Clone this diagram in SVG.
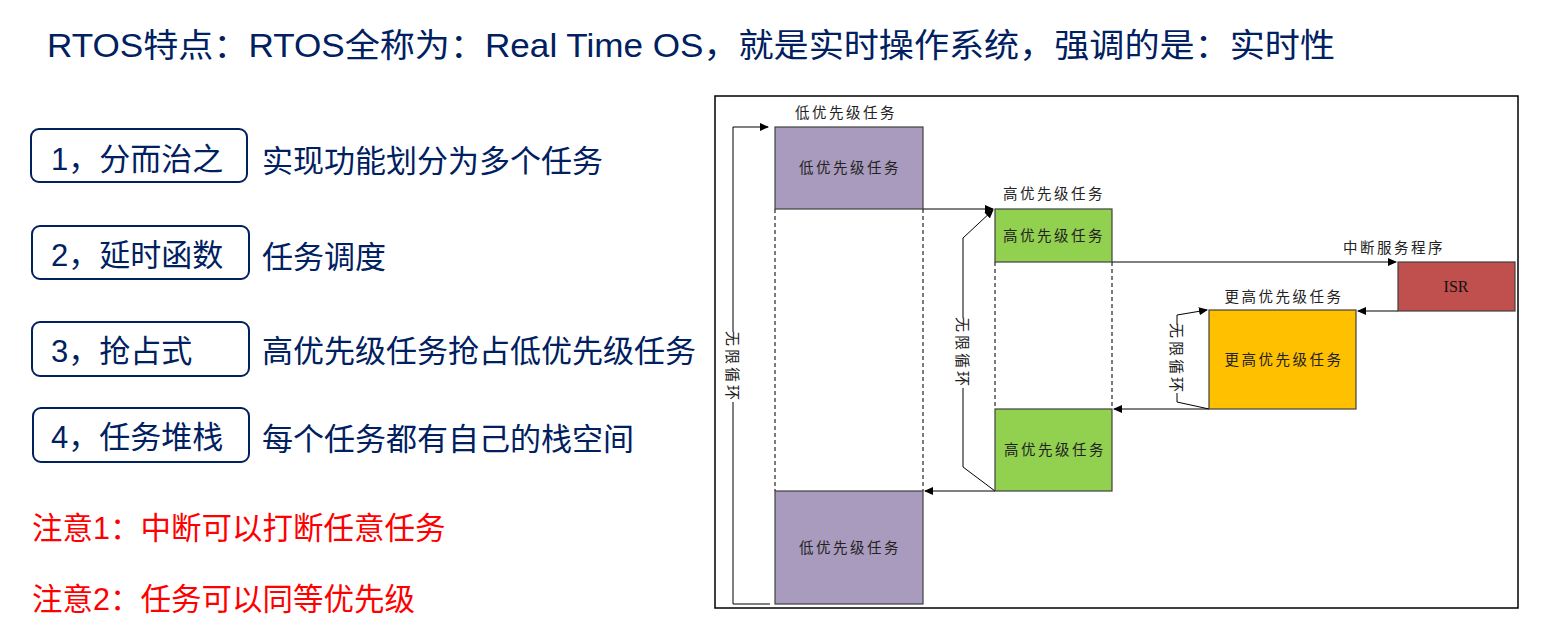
<svg xmlns="http://www.w3.org/2000/svg" width="1542" height="637" viewBox="0 0 1542 637">
<style>
.navy{fill:#002060;font-family:"Liberation Sans","Noto Sans CJK SC",sans-serif;}
.big{font-size:31px;}
.red{fill:#FF0000;font-family:"Liberation Sans","Noto Sans CJK SC",sans-serif;font-size:30.5px;}
.pill{fill:#FFFFFF;stroke:#002060;stroke-width:2;}
.box{stroke:#404040;stroke-width:1.2;}
.lbl{font-family:"Noto Sans CJK SC",sans-serif;font-size:14.5px;fill:#222;letter-spacing:2.5px;text-anchor:middle;}
.vlbl{font-family:"Noto Sans CJK SC",sans-serif;font-size:15px;fill:#222;letter-spacing:3px;text-anchor:middle;}
.dash{stroke:#444;stroke-width:1.4;stroke-dasharray:4,3;fill:none;}
.con{stroke:#000;stroke-width:1;fill:none;}
.arr{marker-end:url(#ah);}
</style>
<defs>
<marker id="ah" markerWidth="9" markerHeight="8" refX="8" refY="4" orient="auto" markerUnits="userSpaceOnUse">
<path d="M0,0 L9,4 L0,8 Z" fill="#000"/>
</marker>
</defs>
<rect width="1542" height="637" fill="#FFFFFF"/>
<g id="title">
<text class="navy" x="47" y="57" font-size="33" textLength="1288" lengthAdjust="spacingAndGlyphs">RTOS特点：RTOS全称为：Real Time OS，就是实时操作系统，强调的是：实时性</text>
</g>
<g id="item1">
<rect class="pill" x="31" y="129" width="216" height="53" rx="8"/>
<text class="navy big" x="51" y="170">1，分而治之</text>
<text class="navy big" x="262" y="172">实现功能划分为多个任务</text>
</g>
<g id="item2">
<rect class="pill" x="32" y="226" width="217" height="53" rx="8"/>
<text class="navy big" x="51" y="266">2，延时函数</text>
<text class="navy big" x="262" y="268">任务调度</text>
</g>
<g id="item3">
<rect class="pill" x="32" y="322" width="217" height="54" rx="8"/>
<text class="navy big" x="51" y="362">3，抢占式</text>
<text class="navy big" x="262" y="362">高优先级任务抢占低优先级任务</text>
</g>
<g id="item4">
<rect class="pill" x="33" y="408" width="216" height="54" rx="8"/>
<text class="navy big" x="51" y="448">4，任务堆栈</text>
<text class="navy big" x="262" y="450">每个任务都有自己的栈空间</text>
</g>
<g id="note1"><text class="red" x="32" y="539">注意1：中断可以打断任意任务</text></g>
<g id="note2"><text class="red" x="32" y="610">注意2：任务可以同等优先级</text></g>

<g id="frame"><rect x="715" y="96" width="803" height="512" fill="none" stroke="#000" stroke-width="1.5"/></g>

<g id="connectors">
<path class="dash" d="M775,209 V491 M923,209 V491 M995,262 V409 M1112,262 V409"/>
<path class="con" d="M770,604 H733 V402"/>
<path class="con arr" d="M733,332 V127 H768"/>
<path class="con" d="M995,491 L963,467 V388"/>
<path class="con arr" d="M963,318 V238 L993,210"/>
<path class="con" d="M1209,409 L1177,402 V393"/>
<path class="con arr" d="M1177,325 V315 L1207,310"/>
<path class="con arr" d="M923,209 H993"/>
<path class="con arr" d="M1112,262 H1396"/>
<path class="con arr" d="M1398,311 H1358"/>
<path class="con arr" d="M1209,409 H1114"/>
<path class="con arr" d="M995,491 H925"/>
<text class="vlbl" transform="translate(733,367) rotate(90)" dominant-baseline="central">无限循环</text>
<text class="vlbl" transform="translate(963,353) rotate(90)" dominant-baseline="central">无限循环</text>
<text class="vlbl" transform="translate(1177,359) rotate(90)" dominant-baseline="central">无限循环</text>
</g>

<g id="low1">
<text class="lbl" x="846" y="118">低优先级任务</text>
<rect class="box" x="775" y="127" width="148" height="82" fill="#A99BBD"/>
<text class="lbl" x="850" y="173">低优先级任务</text>
</g>
<g id="high1">
<text class="lbl" x="1054" y="199">高优先级任务</text>
<rect class="box" x="995" y="209" width="117" height="53" fill="#92D050"/>
<text class="lbl" x="1054" y="241">高优先级任务</text>
</g>
<g id="isr">
<text class="lbl" x="1394" y="253">中断服务程序</text>
<rect class="box" x="1398" y="262" width="117" height="49" fill="#C0504D"/>
<text x="1456" y="292" text-anchor="middle" font-family="Liberation Serif,serif" font-size="16" fill="#111">ISR</text>
</g>
<g id="higher">
<text class="lbl" x="1284" y="302">更高优先级任务</text>
<rect class="box" x="1209" y="310" width="147" height="99" fill="#FFC000"/>
<text class="lbl" x="1284" y="365">更高优先级任务</text>
</g>
<g id="high2">
<rect class="box" x="995" y="409" width="117" height="82" fill="#92D050"/>
<text class="lbl" x="1055" y="455">高优先级任务</text>
</g>
<g id="low2">
<rect class="box" x="775" y="491" width="148" height="113" fill="#A99BBD"/>
<text class="lbl" x="850" y="553">低优先级任务</text>
</g>
</svg>
